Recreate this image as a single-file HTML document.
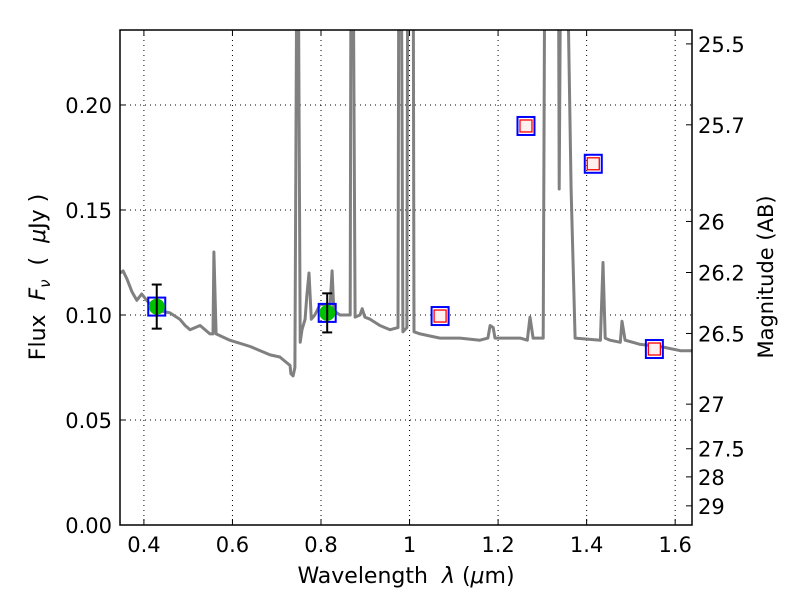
<!DOCTYPE html>
<html><head><meta charset="utf-8"><style>
body{margin:0;background:#fff}
svg{display:block;font-family:"DejaVu Sans","Liberation Sans",sans-serif}
</style></head><body>
<svg id="chart" width="800" height="600" viewBox="0 0 800 600" xmlns="http://www.w3.org/2000/svg">
<rect width="800" height="600" fill="#fff"/>
<g id="grid"></g>
<defs><clipPath id="clip"><rect x="120" y="30" width="572" height="495"/></clipPath></defs>
<g id="series" clip-path="url(#clip)"></g>
<g id="points"></g>
<rect x="120" y="30" width="572" height="495" fill="none" stroke="#000" stroke-width="1.5"/>
<g id="axes"></g>
<text x="406" y="583" font-size="22" text-anchor="middle" xml:space="preserve">Wavelength  <tspan font-style="italic">λ</tspan> (<tspan font-style="italic">μ</tspan>m)</text>
<text transform="translate(45,277) rotate(-90)" font-size="22" text-anchor="middle" xml:space="preserve">Flux  <tspan font-style="italic">F</tspan><tspan font-style="italic" font-size="15" dy="5">ν</tspan><tspan dy="-5">  (  </tspan><tspan font-style="italic">μ</tspan>Jy )</text>
<text transform="translate(773,277) rotate(-90)" font-size="21" text-anchor="middle">Magnitude (AB)</text>
</svg>
<script>
const specWave=[0.346,0.353,0.362,0.373,0.384,0.395,0.414,0.436,0.459,0.481,0.493,0.504,0.527,0.549,0.556,0.558,0.563,0.594,0.640,0.685,0.707,0.730,0.732,0.737,0.741,0.746,0.748,0.753,0.757,0.764,0.768,0.773,0.778,0.786,0.798,0.811,0.820,0.825,0.829,0.843,0.866,0.868,0.872,0.877,0.888,0.893,0.899,0.911,0.933,0.956,0.974,0.976,0.981,0.985,0.994,0.996,1.008,1.010,1.024,1.046,1.069,1.114,1.159,1.177,1.182,1.189,1.193,1.250,1.266,1.272,1.279,1.302,1.306,1.336,1.338,1.342,1.354,1.365,1.374,1.431,1.437,1.442,1.453,1.476,1.480,1.487,1.521,1.566,1.612,1.638];
const specFlux=[0.120,0.121,0.117,0.111,0.107,0.110,0.105,0.102,0.101,0.098,0.095,0.093,0.095,0.091,0.091,0.130,0.091,0.088,0.085,0.081,0.080,0.076,0.072,0.071,0.075,0.30,0.30,0.087,0.093,0.098,0.109,0.120,0.098,0.100,0.105,0.105,0.103,0.121,0.102,0.100,0.100,0.30,0.30,0.099,0.100,0.103,0.099,0.098,0.095,0.093,0.094,0.30,0.30,0.092,0.094,0.30,0.30,0.092,0.091,0.090,0.089,0.089,0.088,0.089,0.095,0.094,0.089,0.089,0.088,0.099,0.089,0.089,0.30,0.30,0.160,0.30,0.30,0.160,0.089,0.088,0.125,0.089,0.088,0.087,0.097,0.088,0.086,0.085,0.083,0.083];
const detWave=[0.429,0.814];
const detFlux=[0.104,0.101];
const detErr=[0.0105,0.0093];
const modelWave=[1.069,1.263,1.415,1.553];
const modelFlux=[0.0995,0.190,0.172,0.0838];
const xTicks=[0.4,0.6,0.8,1.0,1.2,1.4,1.6];
const xTickLabels=["0.4","0.6","0.8","1","1.2","1.4","1.6"];
const yTicks=[0,0.05,0.10,0.15,0.20];
const yTickLabels=["0.00","0.05","0.10","0.15","0.20"];
const magTicks=[25.5,25.7,26,26.2,26.5,27,27.5,28,29];
const magTickLabels=["25.5","25.7","26","26.2","26.5","27","27.5","28","29"];

const NS="http://www.w3.org/2000/svg";
const X0=120,X1=692,Y0=525,Y1=30,XMIN=0.346,XMAX=1.638,YMIN=0,YMAX=0.2357;
function sx(v){return X0+(v-XMIN)/(XMAX-XMIN)*(X1-X0);}
function sy(v){return Y0-(v-YMIN)/(YMAX-YMIN)*(Y0-Y1);}
function magToFlux(m){return Math.pow(10,(23.9-m)/2.5);}
function mk(tag,attrs,parent){const e=document.createElementNS(NS,tag);for(const k in attrs)e.setAttribute(k,attrs[k]);parent.appendChild(e);return e;}
const grid=document.getElementById('grid'),axes=document.getElementById('axes'),series=document.getElementById('series'),pts=document.getElementById('points');

xTicks.forEach((t,i)=>{
  const x=sx(t);
  const g=mk('line',{x1:x,x2:x,y1:Y1,y2:Y0,stroke:'#000','stroke-width':1,'stroke-dasharray':'1,4'},grid);
  
  
  mk('line',{x1:x,x2:x,y1:Y0,y2:Y0-6,stroke:'#000'},axes);
  mk('line',{x1:x,x2:x,y1:Y1,y2:Y1+6,stroke:'#000'},axes);
  const tx=mk('text',{x:x,y:Y0+27,'font-size':21,'text-anchor':'middle'},axes);
  tx.textContent=xTickLabels[i];
  
  
});
yTicks.forEach((t,i)=>{
  const y=sy(t);
  const g=mk('line',{x1:X0,x2:X1,y1:y,y2:y,stroke:'#000','stroke-width':1,'stroke-dasharray':'1,4'},grid);
  
  
  mk('line',{x1:X0,x2:X0+6,y1:y,y2:y,stroke:'#000'},axes);
  const tx=mk('text',{x:X0-8,y:y+8,'font-size':21,'text-anchor':'end'},axes);
  tx.textContent=yTickLabels[i];
  
  
});
magTicks.forEach((m,i)=>{
  const y=sy(magToFlux(m));
  mk('line',{x1:X1,x2:X1-6,y1:y,y2:y,stroke:'#000'},axes);
  const tx=mk('text',{x:X1+6,y:y+8,'font-size':21},axes);
  tx.textContent=magTickLabels[i];
  
  
});

const d=specWave.map((w,i)=>(i?'L':'M')+sx(w).toFixed(1)+','+sy(specFlux[i]).toFixed(1)).join(' ');
const sp=mk('path',{d:d,fill:'none',stroke:'#808080','stroke-width':3,'stroke-linejoin':'round'},series);



detWave.forEach((w,i)=>{
  const x=sx(w),y=sy(detFlux[i]),y1=sy(detFlux[i]+detErr[i]),y2=sy(detFlux[i]-detErr[i]);
  const g=mk('g',{},pts);
  
  
  mk('rect',{x:x-8.5,y:y-9,width:17,height:18,fill:'none',stroke:'#0000ff','stroke-width':2},g);
  mk('circle',{cx:x,cy:y,r:8,fill:'#00c000'},g);
  mk('line',{x1:x,x2:x,y1:y1,y2:y2,stroke:'#000','stroke-width':2},g);
  mk('line',{x1:x-5,x2:x+5,y1:y1,y2:y1,stroke:'#000','stroke-width':2},g);
  mk('line',{x1:x-5,x2:x+5,y1:y2,y2:y2,stroke:'#000','stroke-width':2},g);
});
modelWave.forEach((w,i)=>{
  const x=sx(w),y=sy(modelFlux[i]);
  const g=mk('g',{},pts);
  
  
  mk('rect',{x:x-8.5,y:y-9,width:17,height:18,fill:'none',stroke:'#0000ff','stroke-width':2},g);
  mk('rect',{x:x-6,y:y-6,width:12,height:12,fill:'#fff0f0',stroke:'#ff0000','stroke-width':1.3},g);
});
</script>
</body></html>
